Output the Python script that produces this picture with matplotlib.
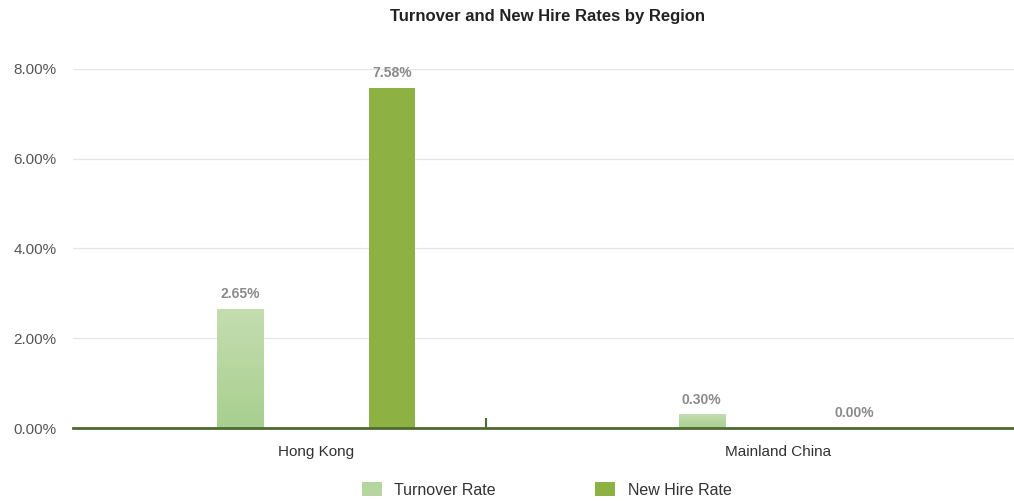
import matplotlib.pyplot as plt
import numpy as np
from matplotlib.patches import Patch

regions = ['Hong Kong', 'Mainland China']
turnover_rate = [2.65, 0.30]
new_hire_rate = [7.58, 0.00]
y_ticks = [0, 2, 4, 6, 8]

plt.rcParams['font.family'] = ['Liberation Sans', 'DejaVu Sans']

fig = plt.figure(figsize=(10.14, 5.01), dpi=100)
ax = fig.add_axes([0.072, 0.1457, 0.928, 0.7166])

x = np.arange(len(regions))
offset = 0.165
width = 0.1
light_top = np.array([0xc4, 0xdd, 0xb0]) / 255
light_bottom = np.array([0xa8, 0xcf, 0x8f]) / 255
dark = '#8db243'

# Turnover bars drawn as vertical gradients
grad = np.linspace(0, 1, 256)[:, None, None]
grad_img = light_top * (1 - grad) + light_bottom * grad
for xi, v in zip(x - offset, turnover_rate):
    ax.imshow(grad_img, extent=(xi - width / 2, xi + width / 2, 0, v),
              aspect='auto', zorder=2, interpolation='bilinear')
ax.bar(x + offset, new_hire_rate, width=width, color=dark, zorder=2)

for xi, v in zip(x - offset, turnover_rate):
    ax.text(xi, v + 0.17, '{:.2f}%'.format(v), ha='center', va='bottom',
            fontsize=10, color='#8a8a8a', fontweight='bold')
for xi, v in zip(x + offset, new_hire_rate):
    ax.text(xi, v + 0.17, '{:.2f}%'.format(v), ha='center', va='bottom',
            fontsize=10, color='#8a8a8a', fontweight='bold')

ax.set_xlim(-0.526, 1.511)
ax.set_ylim(0, 8)
ax.set_yticks(y_ticks)
ax.set_yticklabels(['{:.2f}%'.format(t) for t in y_ticks])
ax.set_xticks(x)
ax.set_xticklabels(regions)
ax.set_xticks([0.368], minor=True)
ax.tick_params(axis='x', which='major', length=0, pad=12, labelsize=11, labelcolor='#333333')
ax.tick_params(axis='x', which='minor', direction='in', length=7.5, width=1.5, color='#4b6b32')
ax.tick_params(axis='y', length=0, pad=12, labelsize=11, labelcolor='#555555')

ax.grid(axis='y', color='#e6e6e6', lw=0.9, zorder=0)
ax.set_axisbelow(True)
for side in ['top', 'right', 'left']:
    ax.spines[side].set_visible(False)
ax.spines['bottom'].set_color('#4b6b32')
ax.spines['bottom'].set_linewidth(2)
ax.spines['bottom'].set_zorder(3)

fig.text(0.54, 0.968, 'Turnover and New Hire Rates by Region', ha='center', va='center',
         fontsize=12, fontweight='bold', color='#222222',
         family=['Liberation Sans Narrow', 'Liberation Sans', 'DejaVu Sans'])

handles = [Patch(facecolor=light_top * 0.5 + light_bottom * 0.5), Patch(facecolor=dark)]
fig.legend(handles, ['Turnover Rate', 'New Hire Rate'], loc='center', ncol=2,
           bbox_to_anchor=(0.539, 0.022), frameon=False, fontsize=11.5,
           handlelength=1.25, handleheight=1.0, columnspacing=6.2, handletextpad=0.8,
           labelcolor='#333333')

fig.savefig('out.png', dpi=100)
